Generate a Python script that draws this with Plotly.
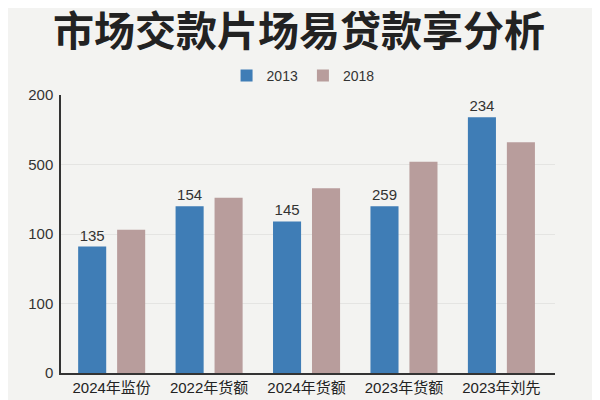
import plotly.graph_objects as go

categories = ["2024年监份", "2022年货额", "2024年货额", "2023年货额", "2023年刘先"]
series_2013 = [91, 120, 109, 120, 184]
series_2018 = [103, 126, 133, 152, 166]
labels_2013 = ["135", "154", "145", "259", "234"]
tick_vals = [0, 50, 100, 150, 200]
tick_text = ["0", "100", "100", "500", "200"]

font_main = "Liberation Sans, Noto Sans CJK SC, sans-serif"

fig = go.Figure()
fig.add_trace(
    go.Bar(
        x=categories,
        y=series_2013,
        name="2013",
        marker=dict(color="#3f7db6", line=dict(width=0)),
        text=labels_2013,
        textposition="outside",
        textfont=dict(size=15, color="#333333", family=font_main),
        cliponaxis=False,
    )
)
fig.add_trace(
    go.Bar(
        x=categories,
        y=series_2018,
        name="2018",
        marker=dict(color="#b89d9c", line=dict(width=0)),
    )
)

# the page body adds an 8px offset, so margins are shifted to compensate
fig.update_layout(
    width=600,
    height=400,
    margin=dict(l=53, r=53, t=87, b=35),
    paper_bgcolor="#f3f3f1",
    plot_bgcolor="#f3f3f1",
    font=dict(family=font_main, color="#333333", size=14),
    title=dict(
        text="市场交款片场易贷款享分析",
        x=0.485,
        xanchor="center",
        y=0.94,
        yanchor="middle",
        font=dict(family="Noto Sans CJK SC", size=41, color="#222222", weight="bold"),
    ),
    legend=dict(
        orientation="h",
        x=0.49,
        xanchor="center",
        y=1.069,
        yanchor="middle",
        font=dict(size=14, color="#333333"),
        itemwidth=30,
        bgcolor="rgba(0,0,0,0)",
    ),
    bargap=0.2,
    bargroupgap=0.28,
    showlegend=True,
)

fig.update_xaxes(
    range=[-0.52, 4.55],
    automargin=False,
    showline=True,
    linecolor="#333333",
    linewidth=1.5,
    ticks="",
    tickfont=dict(size=15, color="#222222"),
    showgrid=False,
)
fig.update_yaxes(
    range=[0, 200],
    automargin=False,
    tickvals=tick_vals,
    ticktext=tick_text,
    showline=True,
    linecolor="#333333",
    linewidth=1.5,
    gridcolor="#e4e4e2",
    gridwidth=1,
    zeroline=False,
    tickfont=dict(size=15, color="#333333"),
    ticklabelstandoff=3,
)

fig.write_html("out.html")
